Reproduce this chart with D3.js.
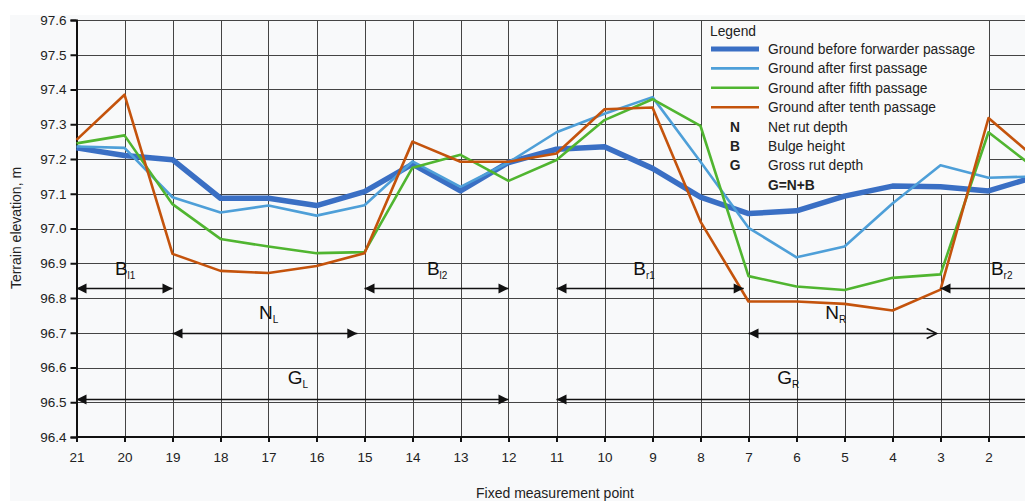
<!DOCTYPE html>
<html><head><meta charset="utf-8">
<script src="https://cdn.jsdelivr.net/npm/d3@7"></script>
<style>
html,body{margin:0;padding:0;background:#fff;overflow:hidden;}
svg{display:block;font-family:"Liberation Sans",Arial,sans-serif;}
</style></head>
<body><svg id="c" width="1025" height="501"></svg>
<script>
// ---- data ----
const points = [21,20,19,18,17,16,15,14,13,12,11,10,9,8,7,6,5,4,3,2,1];
const tickPoints = [21,20,19,18,17,16,15,14,13,12,11,10,9,8,7,6,5,4,3,2];
const yTicks = [96.4,96.5,96.6,96.7,96.8,96.9,97.0,97.1,97.2,97.3,97.4,97.5,97.6];
const groundBefore = [97.232,97.21,97.198,97.087,97.087,97.066,97.106,97.185,97.108,97.19,97.228,97.235,97.173,97.09,97.043,97.051,97.093,97.122,97.12,97.108,97.15];
const groundFirst  = [97.236,97.232,97.09,97.046,97.066,97.037,97.067,97.193,97.12,97.19,97.277,97.33,97.378,97.192,97.002,96.917,96.948,97.072,97.182,97.146,97.15];
const groundFifth  = [97.245,97.268,97.07,96.97,96.948,96.929,96.932,97.175,97.212,97.137,97.197,97.312,97.372,97.295,96.863,96.833,96.823,96.858,96.868,97.277,97.17];
const groundTenth  = [97.255,97.385,96.927,96.878,96.872,96.892,96.929,97.25,97.192,97.192,97.216,97.343,97.348,97.02,96.79,96.79,96.783,96.764,96.824,97.318,97.2];
const seriesNames = ["Ground before forwarder passage","Ground after first passage","Ground after fifth passage","Ground after tenth passage"];
const seriesColors = ["#3a6fc4","#4e9fd8","#50b530","#c4530c"];
const seriesWidths = [5.5,2.6,2.6,2.6];
// annotation arrows: [from point, to point, elevation, head at start, head at end]
const arrowFrom = [21,15,11,3,19,7,21,11];
const arrowTo   = [19,12,7.1,0.5,15.15,3.08,12,0.5];
const arrowLevel= [96.83,96.83,96.83,96.83,96.7,96.7,96.51,96.51];
const arrowStartHead = ["fill","fill","fill","fill","fill","fill","fill","fill"];
const arrowEndHead   = ["fill","fill","fill","none","fill","open","fill","none"];
// annotation labels
const labelMain = ["B","B","B","B","N","N","G","G"];
const labelSub  = ["l1","l2","r1","r2","L","R","L","R"];
const labelPoint= [20.2,13.7,9.4,1.95,17.2,5.4,16.6,6.4];
const labelLevel= [96.865,96.865,96.865,96.865,96.74,96.74,96.553,96.553];
const legendSymbols = ["N","B","G"];
const legendSymbolText = ["Net rut depth","Bulge height","Gross rut depth"];

// ---- chart ----
const svg = d3.select("#c");
svg.append("rect").attr("x",10).attr("y",15).attr("width",1015).attr("height",486).attr("fill","#f8f9fa");

const x = d3.scaleLinear().domain([21,1]).range([76.5,1036.5]);
const y = d3.scaleLinear().domain([96.4,97.6]).range([437,20]);

// grid
const grid = svg.append("g");
grid.selectAll("line.h").data(yTicks.slice(1)).join("line")
  .attr("x1",76.5).attr("x2",1025)
  .attr("y1",d=>Math.round(y(d))+0.5).attr("y2",d=>Math.round(y(d))+0.5)
  .attr("stroke","#444").attr("stroke-width",1);
grid.selectAll("line.v").data(points.slice(1)).join("line")
  .attr("x1",d=>Math.round(x(d))+0.5).attr("x2",d=>Math.round(x(d))+0.5)
  .attr("y1",20).attr("y2",437)
  .attr("stroke","#444").attr("stroke-width",1);

// legend box (under the data lines)
const lx0 = x(8), lx1 = x(2), ly0 = y(97.6), ly1 = y(97.1);
svg.append("rect").attr("x",Math.round(lx0)+0.5).attr("y",Math.round(ly0)+0.5)
  .attr("width",Math.round(lx1-lx0)).attr("height",Math.round(ly1-ly0))
  .attr("fill","#fafafa").attr("stroke","#444").attr("stroke-width",1);

// axes
const yAxis = d3.axisLeft(y).tickValues(yTicks).tickFormat(d3.format(".1f")).tickSize(6).tickPadding(4);
const gy = svg.append("g").attr("transform","translate(76.5,0)").call(yAxis);
const xAxis = d3.axisBottom(x).tickValues(tickPoints).tickFormat(d3.format("d")).tickSize(5).tickPadding(10);
const gx = svg.append("g").attr("transform","translate(0,437)").call(xAxis);
[gy,gx].forEach(g=>{
  g.select(".domain").attr("stroke","#111").attr("stroke-width",2);
  g.selectAll(".tick line").attr("stroke","#111").attr("stroke-width",2);
  g.selectAll(".tick text").attr("font-size",13.5).attr("fill","#222").attr("font-family","Liberation Sans, Arial, sans-serif");
});
gx.select(".domain").attr("d","M76.5,0H1025");

// axis titles
svg.append("text").attr("transform","translate(21,228) rotate(-90)").attr("text-anchor","middle")
  .attr("font-size",14).attr("fill","#222").text("Terrain elevation, m");
svg.append("text").attr("x",555).attr("y",498).attr("text-anchor","middle")
  .attr("font-size",14).attr("fill","#222").text("Fixed measurement point");

// data lines
const seriesData = [groundBefore,groundFirst,groundFifth,groundTenth];
const line = d3.line().x((d,i)=>x(points[i])).y(d=>y(d));
[0,1,2,3].forEach(k=>{
  svg.append("path").datum(seriesData[k]).attr("d",line)
    .attr("fill","none").attr("stroke",seriesColors[k]).attr("stroke-width",seriesWidths[k])
    .attr("stroke-linejoin","round");
});

// arrows
const ag = svg.append("g").attr("stroke","#111").attr("fill","#111");
function head(xTip, yy, dir, type){
  const L=10,W=5;
  if(type==="fill"){
    ag.append("path").attr("d",`M${xTip},${yy}L${xTip-dir*L},${yy-W}L${xTip-dir*L},${yy+W}Z`).attr("stroke","none");
  } else if(type==="open"){
    ag.append("path").attr("d",`M${xTip-dir*L},${yy-W}L${xTip},${yy}L${xTip-dir*L},${yy+W}`).attr("fill","none").attr("stroke-width",1.5);
  }
}
arrowFrom.forEach((f,i)=>{
  const x1=x(f), x2=x(arrowTo[i]), yy=Math.round(y(arrowLevel[i]))+0.5;
  ag.append("line").attr("x1",x1).attr("x2",x2).attr("y1",yy).attr("y2",yy).attr("stroke-width",1.5);
  head(x1,yy,-1,arrowStartHead[i]);
  head(x2,yy,1,arrowEndHead[i]);
});
labelMain.forEach((m,i)=>{
  const t = svg.append("text").attr("x",x(labelPoint[i])).attr("y",y(labelLevel[i]))
    .attr("font-size",19).attr("fill","#111");
  t.append("tspan").text(m);
  t.append("tspan").attr("font-size",10).attr("dy",4).text(labelSub[i]);
});

// legend content
const lg = svg.append("g").attr("font-size",13.8).attr("fill","#222");
lg.append("text").attr("x",710).attr("y",36).text("Legend");
seriesNames.forEach((n,i)=>{
  const yy = 49 + i*19.4;
  lg.append("line").attr("x1",711).attr("x2",759).attr("y1",yy).attr("y2",yy)
    .attr("stroke",seriesColors[i]).attr("stroke-width",i===0?5:2.6);
  lg.append("text").attr("x",768).attr("y",yy+5).text(n);
});
legendSymbols.forEach((s,i)=>{
  const yy = 126.6 + i*19.4;
  lg.append("text").attr("x",735).attr("y",yy+5).attr("text-anchor","middle").attr("font-weight","bold").text(s);
  lg.append("text").attr("x",768).attr("y",yy+5).text(legendSymbolText[i]);
});
lg.append("text").attr("x",768).attr("y",184.8+5).attr("font-weight","bold").text("G=N+B");
</script></body></html>
